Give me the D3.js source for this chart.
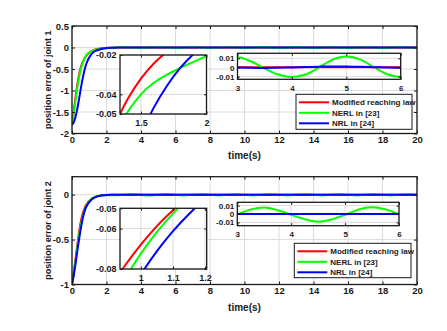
<!DOCTYPE html>
<html>
<head>
<meta charset="utf-8">
<script src="https://cdn.jsdelivr.net/npm/d3@7"></script>
<style>
body { margin: 0; background: #fff; }
svg { display: block; }
</style>
</head>
<body>
<svg id="chart" width="447" height="331"></svg>
<script>
// legend / colours
const seriesNames = ["Modified reaching law", "NERL in [23]", "NRL in [24]"];
const seriesColors = ["#ff0000", "#00ff00", "#0000ff"];

// joint 1 -- time grid and the three error curves
const time1 = [0, 0.1, 0.2, 0.3, 0.4, 0.5, 0.6, 0.7, 0.8, 0.9, 1.0, 1.1, 1.2, 1.3, 1.4, 1.5, 1.6, 1.7, 1.8, 1.9, 2.0,
    2.25, 2.5, 2.75, 3.0, 3.25, 3.5, 3.75, 4.0, 4.25, 4.5, 4.75, 5.0, 5.25, 5.5, 5.75, 6.0,
    6.5, 7, 7.5, 8, 8.5, 9, 9.5, 10, 10.5, 11, 11.5, 12, 12.5, 13, 13.5, 14, 14.5, 15, 15.5, 16, 16.5, 17, 17.5, 18, 18.5, 19, 19.5, 20];
const red1 = [-1.80, -1.50, -1.17, -0.88, -0.65, -0.48, -0.36, -0.27, -0.205, -0.16, -0.125, -0.097, -0.075, -0.056, -0.0423, -0.032, -0.0242, -0.0183, -0.0138, -0.0104, -0.0079,
    -0.0042, -0.002, -0.0008, 0.0002, 0.0003, 0.0003, 0.0003, 0.0003, 0.0003, 0.0003, 0.0003, 0.0003, 0.0003, 0.0003, 0.0003, 0.0003,
    0.0003, 0.0003, 0.0003, 0.0003, 0.0003, 0.0003, 0.0003, 0.0003, 0.0003, 0.0003, 0.0003, 0.0003, 0.0003, 0.0003,
    0.0003, 0.0003, 0.0003, 0.0003, 0.0003, 0.0003, 0.0003, 0.0003, 0.0003, 0.0003, 0.0003, 0.0003, 0.0003, 0.0003];
const green1 = [-1.80, -1.55, -1.24, -0.95, -0.71, -0.52, -0.38, -0.28, -0.205, -0.152, -0.115, -0.090, -0.073, -0.060, -0.0488, -0.0400, -0.0340, -0.0300, -0.0266, -0.0235, -0.0205,
    -0.012, -0.002, 0.0075, 0.0112, 0.0065, -0.0012, -0.0078, -0.0106, -0.0078, 0.0000, 0.0085, 0.0120, 0.0088, 0.0005, -0.0075, -0.0106,
    0, 0.0115, 0, -0.0105, 0, 0.0115, 0, -0.0105, 0, 0.0115, 0, -0.0105, 0, 0.0115,
    0, -0.0105, 0, 0.0115, 0, -0.0105, 0, 0.0115, 0, -0.0105, 0, 0.0115, 0, -0.0105];
const blue1 = [-1.80, -1.74, -1.62, -1.44, -1.22, -0.98, -0.76, -0.57, -0.42, -0.31, -0.23, -0.17, -0.125, -0.093, -0.074, -0.060, -0.0465, -0.0355, -0.0266, -0.0196, -0.0145,
    -0.0075, -0.0038, -0.0015, -0.0002, -0.0004, -0.0006, -0.0003, 0.0000, 0.0004, 0.0008, 0.0011, 0.0010, 0.0007, 0.0003, -0.0002, -0.0004,
    0, 0, 0, 0, 0, 0, 0, 0, 0, 0, 0, 0, 0, 0,
    0, 0, 0, 0, 0, 0, 0, 0, 0, 0, 0, 0, 0, 0];

// joint 2
const time2 = [0, 0.1, 0.2, 0.3, 0.4, 0.5, 0.6, 0.7, 0.8, 0.85, 0.9, 0.95, 1.0, 1.05, 1.1, 1.15, 1.2, 1.25, 1.3, 1.4, 1.5, 1.6, 1.8, 2.0,
    2.25, 2.5, 2.75, 3.0, 3.25, 3.5, 3.75, 4.0, 4.25, 4.5, 4.75, 5.0, 5.25, 5.5, 5.75, 6.0,
    6.5, 7, 7.5, 8, 8.5, 9, 9.5, 10, 10.5, 11, 11.5, 12, 12.5, 13, 13.5, 14, 14.5, 15, 15.5, 16, 16.5, 17, 17.5, 18, 18.5, 19, 19.5, 20];
const red2 = [-1, -0.865, -0.72, -0.57, -0.43, -0.31, -0.225, -0.165, -0.1207, -0.1045, -0.0905, -0.0784, -0.0679, -0.0588, -0.051, -0.0441, -0.0382, -0.0331, -0.0287, -0.0215, -0.016, -0.012, -0.0065, -0.0035,
    -0.0015, -0.0005, 0, 0, 0, 0, 0, 0, 0, 0, 0, 0, 0, 0, 0, 0,
    0, 0, 0, 0, 0, 0, 0, 0, 0, 0, 0, 0, 0, 0,
    0, 0, 0, 0, 0, 0, 0, 0, 0, 0, 0, 0, 0, 0];
const green2 = [-1, -0.885, -0.745, -0.6, -0.465, -0.35, -0.26, -0.19, -0.137, -0.117, -0.0995, -0.085, -0.0724, -0.0617, -0.0526, -0.0448, -0.0382, -0.0326, -0.0278, -0.0202, -0.0147, -0.0107, -0.006, -0.0045,
    -0.006, -0.0075, -0.005, -0.0005, 0.0055, 0.0078, 0.0045, -0.001, -0.0062, -0.009, -0.0065, -0.001, 0.0055, 0.008, 0.0055, 0.0,
    -0.0085, 0, 0.008, 0, -0.0085, 0, 0.008, 0, -0.0085, 0, 0.008, 0, -0.0085, 0,
    0.008, 0, -0.0085, 0, 0.008, 0, -0.0085, 0, 0.008, 0, -0.0085, 0, 0.008, 0];
const blue2 = [-1, -0.9, -0.775, -0.64, -0.51, -0.39, -0.285, -0.205, -0.148, -0.1285, -0.1114, -0.096, -0.0827, -0.0712, -0.0613, -0.0528, -0.0455, -0.0392, -0.0337, -0.025, -0.0185, -0.0137, -0.0075, -0.0041,
    -0.0012, -0.0003, 0, 0, 0, 0, 0, 0, 0, 0, 0, 0, 0, 0, 0, 0,
    0, 0, 0, 0, 0, 0, 0, 0, 0, 0, 0, 0, 0, 0,
    0, 0, 0, 0, 0, 0, 0, 0, 0, 0, 0, 0, 0, 0];

// tick labels
const mainXTicks = [0, 2, 4, 6, 8, 10, 12, 14, 16, 18, 20];
const main1YTicks = [-2, -1.5, -1, -0.5, 0, 0.5];
const main2YTicks = [-1, -0.5, 0];
const zoomA1XTicks = [1.5, 2];
const zoomA1YTicks = [-0.05, -0.04, -0.02];
const zoomB1XTicks = [3, 4, 5, 6];
const zoomB1YTicks = [-0.01, 0, 0.01];
const zoomA2XTicks = [1, 1.1, 1.2];
const zoomA2YTicks = [-0.08, -0.06, -0.05];
const zoomB2XTicks = [3, 4, 5, 6];
const zoomB2YTicks = [-0.01, 0, 0.01];

const FONT = '"Liberation Sans", Arial, Helvetica, sans-serif';
const INK = "#1a1a1a";
const fmt = d => String(Math.round(d * 1e4) / 1e4);

const svg = d3.select("#chart")
    .attr("font-family", FONT)
    .attr("font-weight", "bold");

let clipCount = 0;

const makeSeries = (vals) => vals.map((v, i) => ({ values: v, color: seriesColors[i] }));

const drawAxes = (o) => {
    const x = d3.scaleLinear().domain(o.xDomain).range([o.left, o.right]);
    const y = d3.scaleLinear().domain(o.yDomain).range([o.bottom, o.top]);
    const w = o.right - o.left;
    const h = o.bottom - o.top;
    const g = svg.append("g");

    g.append("rect")
        .attr("x", o.left).attr("y", o.top)
        .attr("width", w).attr("height", h)
        .attr("fill", "#fff");

    // grid
    g.append("g").selectAll("line")
        .data(o.xTicks)
        .enter()
        .append("line")
        .attr("x1", d => x(d)).attr("x2", d => x(d))
        .attr("y1", o.top).attr("y2", o.bottom)
        .attr("stroke", "#dcdcdc")
        .attr("stroke-width", 1);
    g.append("g").selectAll("line")
        .data(o.yTicks)
        .enter()
        .append("line")
        .attr("x1", o.left).attr("x2", o.right)
        .attr("y1", d => y(d)).attr("y2", d => y(d))
        .attr("stroke", "#dcdcdc")
        .attr("stroke-width", 1);

    // curves
    const id = "clip" + clipCount++;
    g.append("clipPath").attr("id", id)
        .append("rect")
        .attr("x", o.left).attr("y", o.top)
        .attr("width", w).attr("height", h);

    const line = d3.line()
        .x(d => x(d[0]))
        .y(d => y(d[1]))
        .curve(d3.curveMonotoneX);

    g.append("g")
        .attr("clip-path", `url(#${id})`)
        .selectAll("path")
        .data(o.series)
        .enter()
        .append("path")
        .attr("d", s => line(o.time.map((t, i) => [t, s.values[i]])))
        .attr("fill", "none")
        .attr("stroke", s => s.color)
        .attr("stroke-width", o.lw)
        .attr("stroke-linejoin", "round");

    // axes, ticks pointing inward like matlab
    const styleAxis = sel => {
        sel.attr("font-family", FONT)
            .attr("font-size", o.fs)
            .attr("font-weight", "bold");
        sel.select(".domain").remove();
        sel.selectAll(".tick line").attr("stroke", INK).attr("stroke-width", 1);
        sel.selectAll(".tick text").attr("fill", INK);
    };

    g.append("g")
        .attr("transform", `translate(0,${o.bottom})`)
        .call(d3.axisBottom(x).tickValues(o.xTicks).tickFormat(fmt)
            .tickSizeInner(-o.tick).tickSizeOuter(0).tickPadding(o.xPad))
        .call(styleAxis);
    g.append("g")
        .attr("transform", `translate(0,${o.top})`)
        .call(d3.axisTop(x).tickValues(o.xTicks).tickFormat("")
            .tickSizeInner(-o.tick).tickSizeOuter(0))
        .call(styleAxis);
    g.append("g")
        .attr("transform", `translate(${o.left},0)`)
        .call(d3.axisLeft(y).tickValues(o.yTicks).tickFormat(fmt)
            .tickSizeInner(-o.tick).tickSizeOuter(0).tickPadding(o.yPad))
        .call(styleAxis);
    g.append("g")
        .attr("transform", `translate(${o.right},0)`)
        .call(d3.axisRight(y).tickValues(o.yTicks).tickFormat("")
            .tickSizeInner(-o.tick).tickSizeOuter(0))
        .call(styleAxis);

    g.append("rect")
        .attr("x", o.left).attr("y", o.top)
        .attr("width", w).attr("height", h)
        .attr("fill", "none")
        .attr("stroke", INK)
        .attr("stroke-width", o.box);

    return g;
};

const drawLegend = (left, top, w, h) => {
    const g = svg.append("g");
    g.append("rect")
        .attr("x", left).attr("y", top)
        .attr("width", w).attr("height", h)
        .attr("fill", "#fff")
        .attr("stroke", INK)
        .attr("stroke-width", 1);
    const rows = g.selectAll("g.row")
        .data(seriesNames)
        .enter()
        .append("g")
        .attr("class", "row")
        .attr("transform", (d, i) => `translate(${left},${top + 8 + i * 10.5})`);
    rows.append("line")
        .attr("x1", 3).attr("x2", 33)
        .attr("y1", 0).attr("y2", 0)
        .attr("stroke", (d, i) => seriesColors[i])
        .attr("stroke-width", 2);
    rows.append("text")
        .attr("x", 36)
        .attr("y", 3)
        .attr("font-size", 8)
        .attr("fill", INK)
        .text(d => d);
};

const drawLabels = (left, right, top, bottom, yText, xBase) => {
    svg.append("text")
        .attr("x", (left + right) / 2)
        .attr("y", xBase)
        .attr("text-anchor", "middle")
        .attr("font-size", 10)
        .attr("fill", INK)
        .text("time(s)");
    svg.append("text")
        .attr("transform", `translate(51,${(top + bottom) / 2}) rotate(-90)`)
        .attr("text-anchor", "middle")
        .attr("font-size", 9)
        .attr("fill", INK)
        .text(yText);
};

const mainStyle = { lw: 2, fs: 9.5, tick: 3, xPad: 3, yPad: 3, box: 1.3 };
const insetStyle = { lw: 2, fs: 9, tick: 2.5, xPad: 6, yPad: 3.5, box: 1.3 };
const stripStyle = { ...insetStyle, fs: 8, xPad: 6, yPad: 3 };

// ---- joint 1 ----
const s1 = makeSeries([red1, green1, blue1]);
drawAxes({ ...mainStyle, left: 72, right: 417, top: 26, bottom: 133.5,
    xDomain: [0, 20], yDomain: [-2, 0.5], xTicks: mainXTicks, yTicks: main1YTicks,
    time: time1, series: s1 });
drawLabels(72, 417, 26, 133.5, "position error of joint 1", 159);
drawAxes({ ...insetStyle, left: 120, right: 206.5, top: 55, bottom: 114,
    xDomain: [1.34, 2.0], yDomain: [-0.05, -0.02], xTicks: zoomA1XTicks, yTicks: zoomA1YTicks,
    time: time1, series: s1 });
drawAxes({ ...stripStyle, left: 237.5, right: 400.7, top: 53.3, bottom: 79.3,
    xDomain: [3, 6], yDomain: [-0.013, 0.0155], xTicks: zoomB1XTicks, yTicks: zoomB1YTicks,
    time: time1, series: s1 });
drawLegend(296, 94.3, 116, 35);

// ---- joint 2 ----
const s2 = makeSeries([red2, green2, blue2]);
drawAxes({ ...mainStyle, left: 72, right: 417, top: 176.7, bottom: 284.5,
    xDomain: [0, 20], yDomain: [-1, 0.2], xTicks: mainXTicks, yTicks: main2YTicks,
    time: time2, series: s2 });
drawLabels(72, 417, 176.7, 284.5, "position error of joint 2", 310.5);
drawAxes({ ...insetStyle, left: 120, right: 206.7, top: 208.3, bottom: 269,
    xDomain: [0.935, 1.205], yDomain: [-0.08, -0.05], xTicks: zoomA2XTicks, yTicks: zoomA2YTicks,
    time: time2, series: s2 });
drawAxes({ ...stripStyle, left: 237.3, right: 399, top: 202.3, bottom: 225.7,
    xDomain: [3, 6], yDomain: [-0.014, 0.014], xTicks: zoomB2XTicks, yTicks: zoomB2YTicks,
    time: time2, series: s2 });
drawLegend(294.3, 243.3, 116.7, 34.4);
</script>
</body>
</html>
